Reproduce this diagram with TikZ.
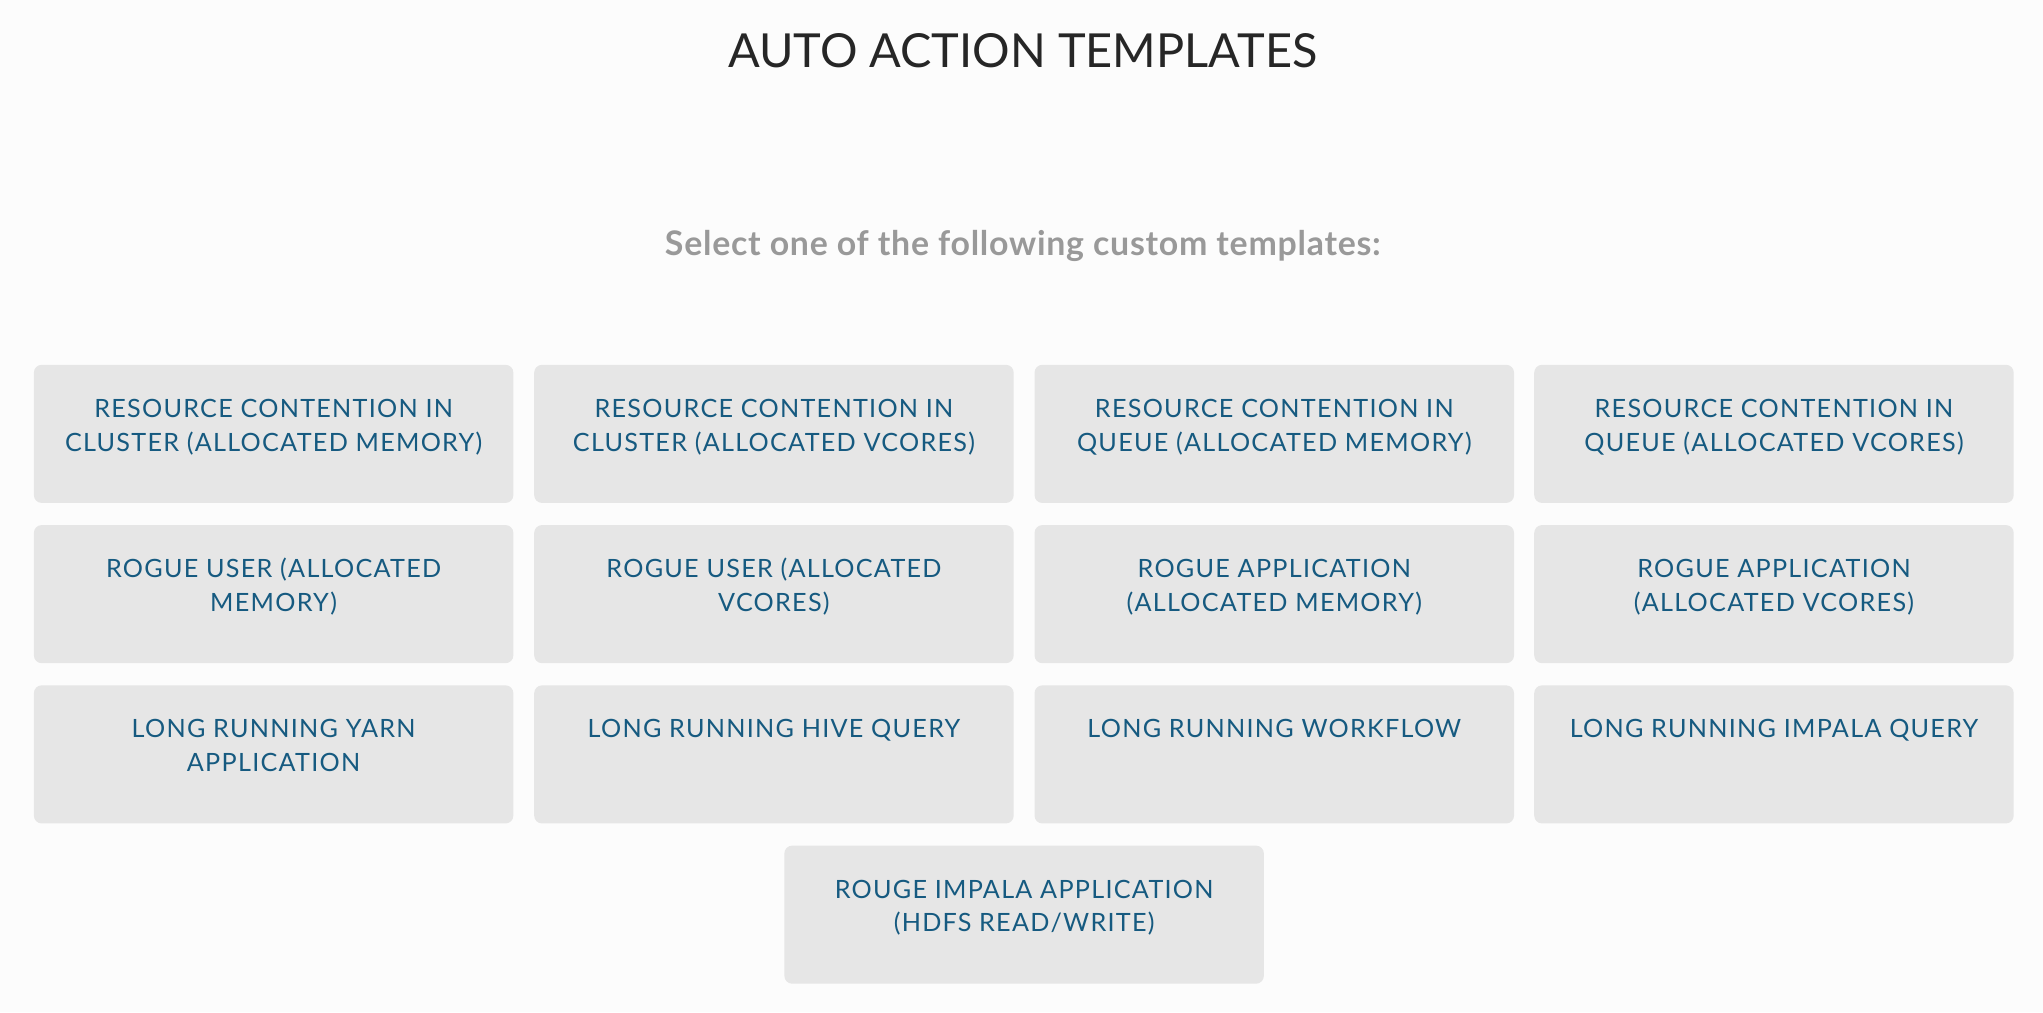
\documentclass[tikz,border=0pt]{standalone}
\usepackage{fontspec}
\setmainfont{Lato}
\newfontfamily\latobox[LetterSpace=5]{Lato}
\newfontfamily\latosub[LetterSpace=2.2]{Lato}
\definecolor{bgcol}{HTML}{FCFCFC}
\definecolor{boxcol}{HTML}{E6E6E6}
\definecolor{bluetxt}{HTML}{165A80}
\definecolor{titlecol}{HTML}{262626}
\definecolor{subcol}{HTML}{999999}
\tikzset{
  tbox/.style={draw=none, fill=boxcol, rounded corners=3.6pt, minimum width=220.8pt, minimum height=63.6pt, inner sep=0pt},
  tlabel/.style={anchor=north, inner sep=0pt, align=center, text=bluetxt, font=\latobox\fontsize{11.6pt}{15.6pt}\selectfont},
}
\newcommand{\mystr}{\rule{0pt}{10pt}}
\begin{document}
\begin{tikzpicture}[x=0.6pt, y=-0.6pt]
\fill[bgcol] (0,0) rectangle (1568,777);
\useasboundingbox (0,0) rectangle (1568,777);
\node[anchor=base, inner sep=0pt, text=titlecol, font=\fontsize{21.6pt}{26pt}\selectfont] (title) at (785,52) {AUTO ACTION TEMPLATES};
\node[anchor=base, inner sep=0pt, text=subcol, font=\latosub\bfseries\fontsize{15.6pt}{18pt}\selectfont] (sub) at (785,196) {Select one of the following custom templates:};
% columns centres: 210, 594, 978, 1361.5 ; rows tops 280, 403, 526, 649
\foreach \n/\cx/\ty/\txt in {
  a/210/280/{RESOURCE CONTENTION IN\\CLUSTER (ALLOCATED MEMORY)},
  b/594/280/{RESOURCE CONTENTION IN\\CLUSTER (ALLOCATED VCORES)},
  c/978/280/{RESOURCE CONTENTION IN\\QUEUE (ALLOCATED MEMORY)},
  d/1361.5/280/{RESOURCE CONTENTION IN\\QUEUE (ALLOCATED VCORES)},
  e/210/403/{ROGUE USER (ALLOCATED\\MEMORY)},
  f/594/403/{ROGUE USER (ALLOCATED\\VCORES)},
  g/978/403/{ROGUE APPLICATION\\(ALLOCATED MEMORY)},
  h/1361.5/403/{ROGUE APPLICATION\\(ALLOCATED VCORES)},
  i/210/526/{LONG RUNNING YARN\\APPLICATION},
  j/594/526/{LONG RUNNING HIVE QUERY},
  k/978/526/{LONG RUNNING WORKFLOW},
  l/1361.5/526/{LONG RUNNING IMPALA QUERY},
  m/786/649/{ROUGE IMPALA APPLICATION\\(HDFS READ/WRITE)}}
{
  \node[tbox] (box\n) at (\cx,\ty+53) {};
  \node[tlabel] (lab\n) at (\cx,\ty+23.3) {\mystr\txt};
}
\end{tikzpicture}
\end{document}
